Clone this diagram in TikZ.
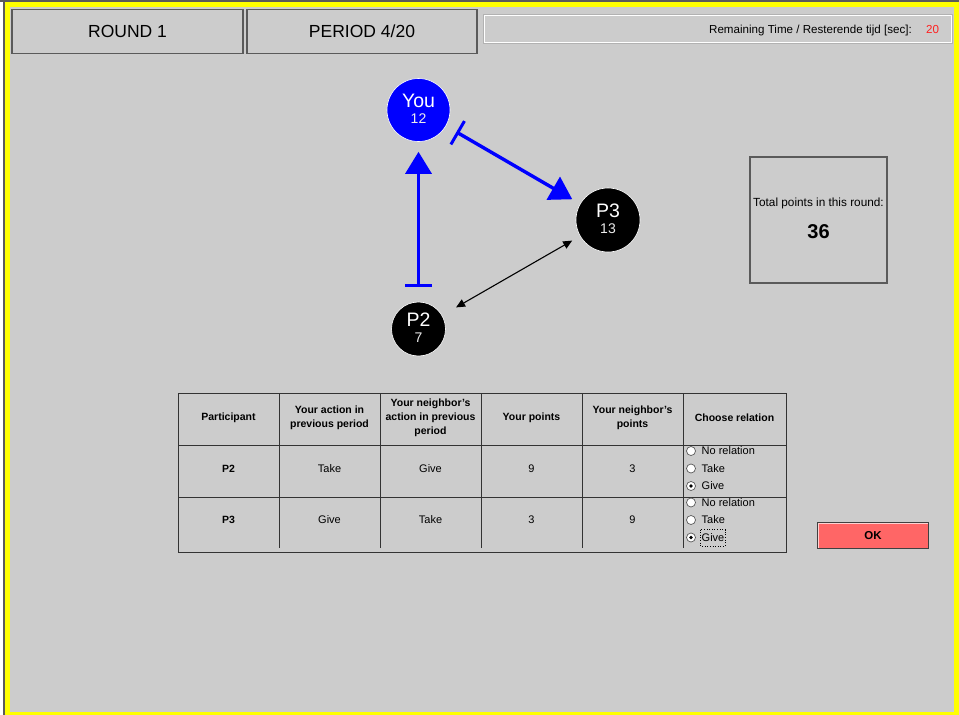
\documentclass[tikz,border=0pt]{standalone}
\usepackage{fontspec}
\setmainfont{Liberation Sans}
\usetikzlibrary{arrows.meta}
\definecolor{panel}{HTML}{CCCCCC}
\definecolor{frameyellow}{HTML}{FFFF00}
\definecolor{edgegray}{HTML}{5A5A5A}
\definecolor{linkblue}{HTML}{0000FF}
\definecolor{okred}{HTML}{FF6666}
\definecolor{timered}{HTML}{FF2020}
\newcommand{\fs}[1]{\fontsize{#1}{#1}\selectfont}
\newcommand{\fsl}[2]{\fontsize{#1}{#2}\selectfont}
\tikzset{
  headbox/.style={draw=edgegray, line width=1.3pt, fill=panel, inner sep=0pt},
  player/.style={circle, fill=black, draw=white, line width=0.6pt, inner sep=0pt},
  cell/.style={font=\fsl{10.5}{14}\bfseries, align=center, inner sep=0pt},
  plain/.style={font=\fs{11}, inner sep=0pt},
  radio/.style={circle, draw=gray!70!black, fill=white, line width=0.7pt, minimum size=9pt, inner sep=0pt},
  givelink/.style={draw=linkblue, line width=3.4pt,
    {Bar[width=27pt,line width=3pt]}-{Triangle[length=22pt,width=26pt]}},
  mutual/.style={draw=black, line width=1.1pt,
    {Triangle[length=9pt,width=8pt]}-{Triangle[length=9pt,width=8pt]}},
  grid/.style={draw=black!80, line width=1pt},
}
\begin{document}
\begin{tikzpicture}[x=1pt,y=-1pt]
\useasboundingbox (0,0) rectangle (959,715);
% window frame
\fill[frameyellow] (0,0) rectangle (959,715);
\fill[white] (0,0) rectangle (3,715);
\fill[edgegray] (3,0) rectangle (5,715);
\fill[edgegray] (0,0) rectangle (959,2);
\fill[panel] (10,7) rectangle (954,712);

% header bar
\node[headbox, minimum width=231pt, minimum height=44pt, font=\fs{17.5}] (round) at (127.5,31.5) {ROUND 1};
\node[headbox, minimum width=230pt, minimum height=44pt, font=\fs{17.5}] (period) at (362,31.5) {PERIOD 4/20};
\draw[gray!60, line width=1pt] (483,14) rectangle (952,43);
\draw[white, line width=0.6pt] (484.2,15.2) rectangle (950.8,41.8);
\node[plain, font=\fs{11.6}, anchor=east] (timelabel) at (912,30) {Remaining Time / Resterende tijd [sec]:};
\node[plain, font=\fs{11.6}, text=timered, anchor=west] (timeval) at (926,30) {20};

% network of players
\node[player, fill=linkblue, minimum size=63pt] (you) at (418.5,110) {};
\node[player, minimum size=64pt] (p3) at (608,220) {};
\node[player, minimum size=54pt] (p2) at (418.5,329) {};
\node[font=\fs{19.5}, text=white, inner sep=0pt] (youname) at (418.5,101) {You};
\node[font=\fs{14}, text=white!85!gray, inner sep=0pt] (youpts) at (418.5,119) {12};
\node[font=\fs{19.5}, text=white, inner sep=0pt] (p3name) at (608,211) {P3};
\node[font=\fs{14}, text=white!85!gray, inner sep=0pt] (p3pts) at (608,229) {13};
\node[font=\fs{19.5}, text=white, inner sep=0pt] (p2name) at (418.5,320) {P2};
\node[font=\fs{14}, text=white!85!gray, inner sep=0pt] (p2pts) at (418.5,338) {7};

\draw[givelink, shorten <=15pt, shorten >=10pt] (p2) -- (you);
\draw[givelink, shorten <=12pt, shorten >=9pt] (you) -- (p3);
\draw[mutual, shorten <=16pt, shorten >=9pt] (p2) -- (p3);

% total points
\node[draw=edgegray, line width=1.2pt, minimum width=137pt, minimum height=126pt] (total) at (818.5,220) {};
\node[plain, font=\fs{11.8}] (totallabel) at (818.5,203) {Total points in this round:};
\node[font=\fs{20}\bfseries, inner sep=0pt] (totalval) at (818.5,232) {36};

% relation table
\draw[grid] (178,393) rectangle (786,552);
\draw[grid] (178,445) -- (786,445);
\draw[grid] (178,497) -- (786,497);
\foreach \cx in {279,380,481,582,683} {
  \draw[grid] (\cx,393) -- (\cx,548);
}
\node[cell] (h1) at (228.5,417.5) {Participant};
\node[cell] (h2) at (329.5,417.5) {Your action in\\previous period};
\node[cell] (h3) at (430.5,417.5) {Your neighbor's\\action in previous\\period};
\node[cell] (h4) at (531.5,417.5) {Your points};
\node[cell] (h5) at (632.5,417.5) {Your neighbor's\\points};
\node[cell] (h6) at (734.5,417.5) {Choose relation};

\node[cell] (r1a) at (228.5,468.5) {P2};
\node[plain] (r1b) at (329.5,468.5) {Take};
\node[plain] (r1c) at (430.5,468.5) {Give};
\node[plain] (r1d) at (531.5,468.5) {9};
\node[plain] (r1e) at (632.5,468.5) {3};
\node[cell] (r2a) at (228.5,519.5) {P3};
\node[plain] (r2b) at (329.5,519.5) {Give};
\node[plain] (r2c) at (430.5,519.5) {Take};
\node[plain] (r2d) at (531.5,519.5) {3};
\node[plain] (r2e) at (632.5,519.5) {9};

% radio buttons
\node[radio] (ra1) at (691,451) {};
\node[radio] (ra2) at (691,468.5) {};
\node[radio] (ra3) at (691,486) {};
\node[radio] (rb1) at (691,502.5) {};
\node[radio] (rb2) at (691,520) {};
\node[radio] (rb3) at (691,537.5) {};
\fill[black] (ra3) circle (1.8pt);
\fill[black] (rb3) circle (1.8pt);
\node[plain, anchor=west] (ta1) at (701.5,451) {No relation};
\node[plain, anchor=west] (ta2) at (701.5,468.5) {Take};
\node[plain, anchor=west] (ta3) at (701.5,486) {Give};
\node[plain, anchor=west] (tb1) at (701.5,502.5) {No relation};
\node[plain, anchor=west] (tb2) at (701.5,520) {Take};
\node[plain, anchor=west] (tb3) at (701.5,537.5) {Give};
\draw[black, line width=0.6pt, dotted] (700.5,529.5) rectangle (725,546);

% confirm button
\node[draw=black!75, line width=1.3pt, fill=okred, minimum width=111pt, minimum height=26pt,
      font=\fs{11.5}\bfseries, inner sep=0pt] (ok) at (873,535.5) {OK};
\draw[white!70!okred, line width=0.8pt] (818.5,547.5) -- (818.5,523.5) -- (927.5,523.5);
\end{tikzpicture}
\end{document}
